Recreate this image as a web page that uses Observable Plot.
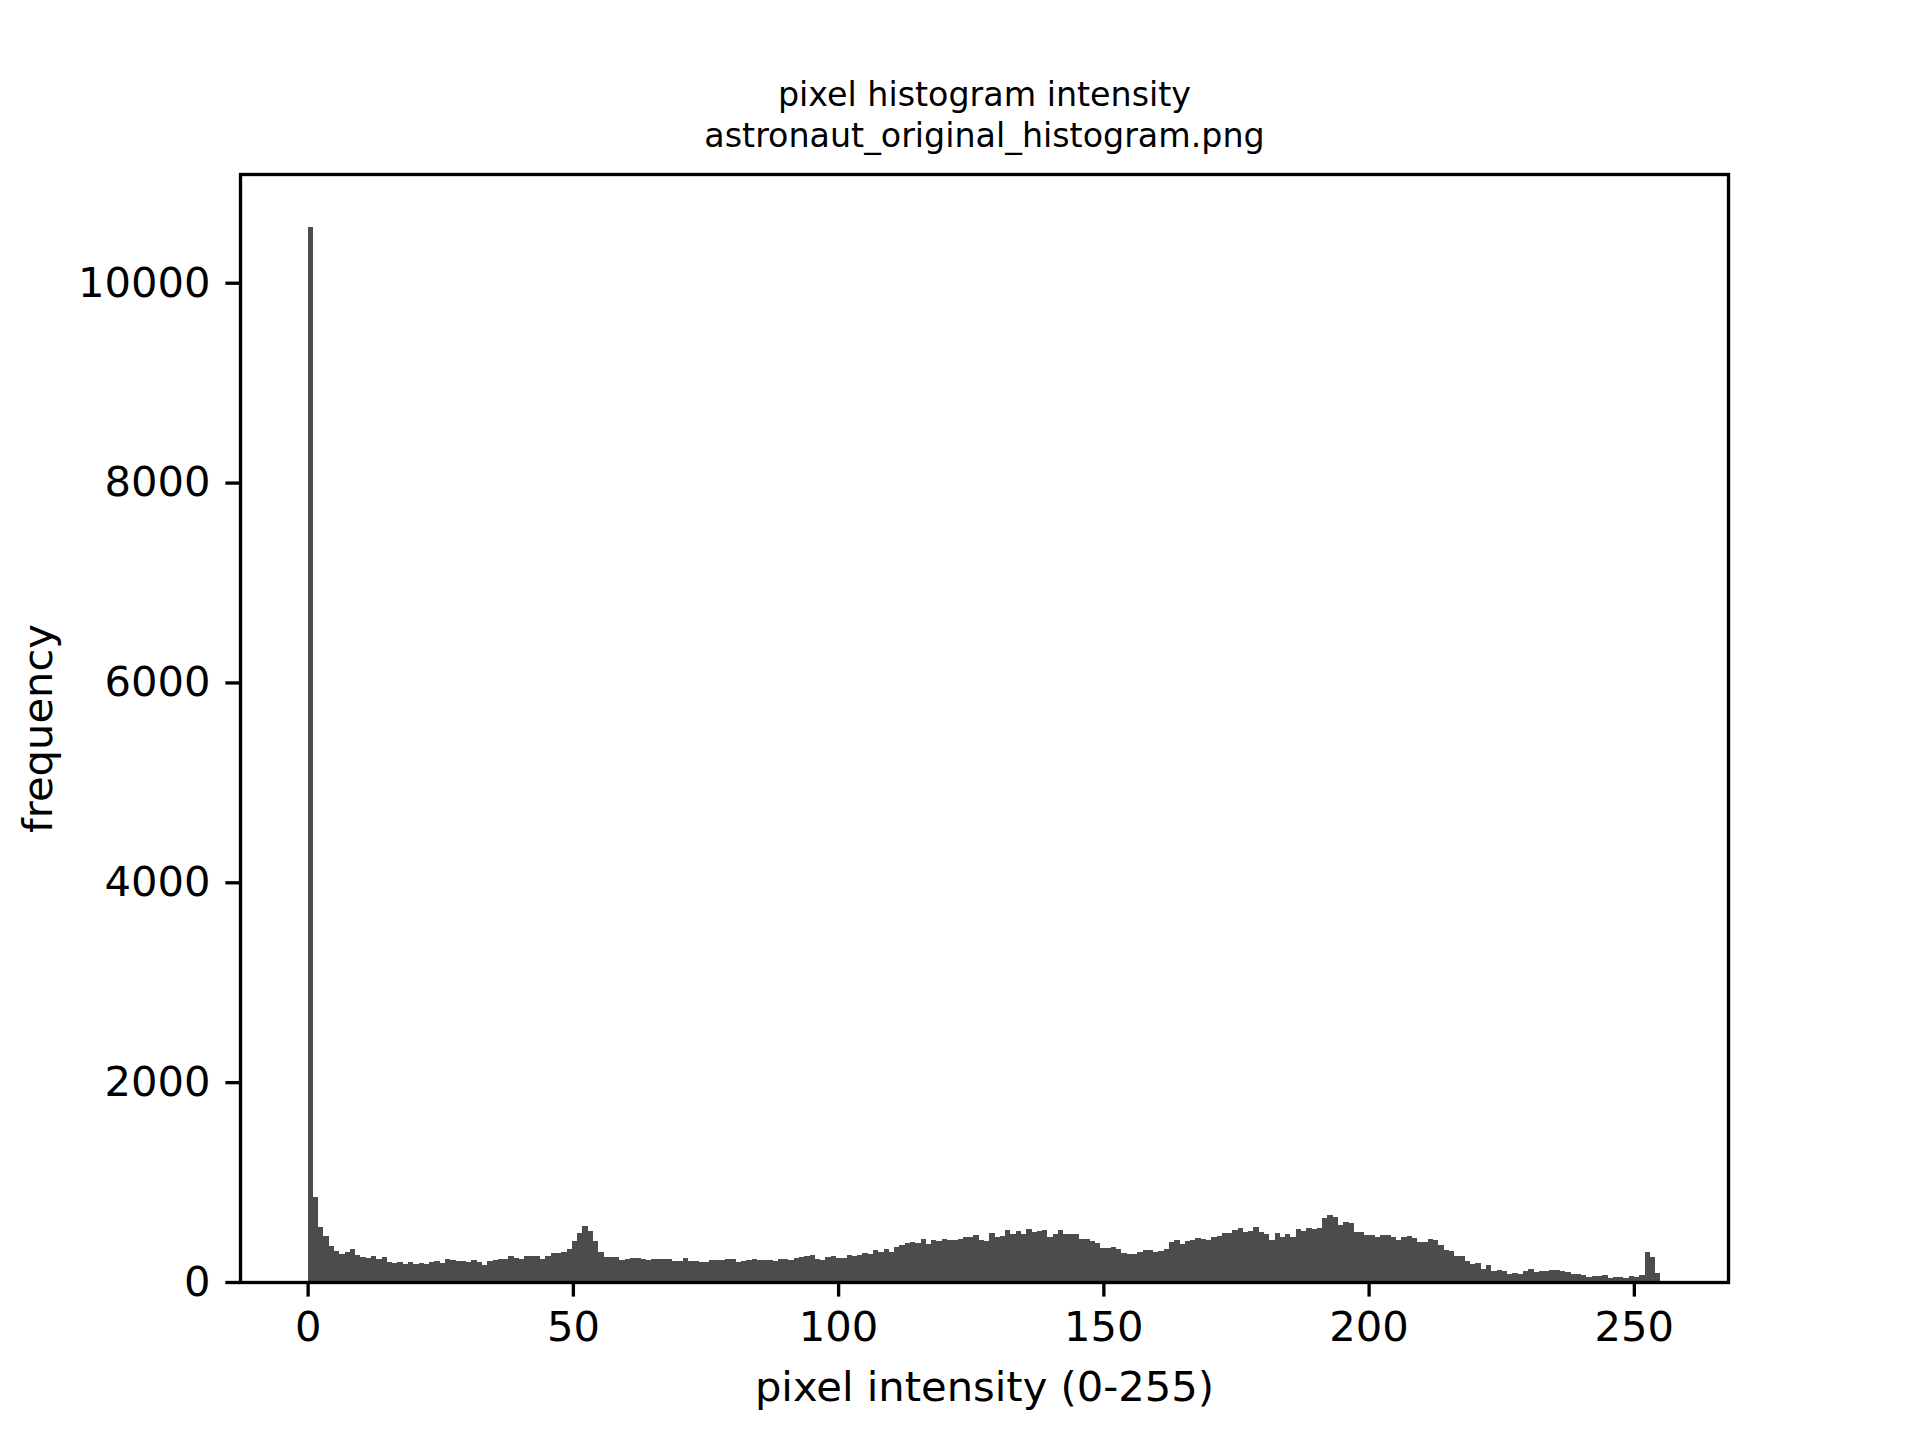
<!DOCTYPE html>
<html>
<head>
<meta charset="utf-8">
<script src="https://cdn.jsdelivr.net/npm/d3@7"></script>
<script src="https://cdn.jsdelivr.net/npm/@observablehq/plot@0.6"></script>
<style>
  html, body { margin: 0; padding: 0; background: #fff; }
  #chart svg { display: block; }
</style>
</head>
<body>
<div id="chart"></div>
<script>
// ---- data ----
const titleLines = ["pixel histogram intensity", "astronaut_original_histogram.png"];
const xLabel = "pixel intensity (0-255)";
const yLabel = "frequency";
const binRange = [0, 255];
const counts = [
  10560, 850, 550, 460, 360, 310, 280, 300, 330, 270,
  250, 243, 260, 233, 250, 203, 193, 200, 183, 200,
  183, 190, 180, 200, 213, 193, 230, 220, 213, 213,
  203, 223, 203, 170, 213, 223, 233, 233, 260, 243,
  233, 260, 260, 260, 230, 260, 290, 290, 300, 330,
  410, 490, 560, 510, 410, 300, 250, 250, 250, 220,
  230, 240, 240, 230, 220, 230, 230, 230, 230, 210,
  210, 240, 210, 210, 200, 200, 220, 220, 220, 230,
  230, 200, 210, 220, 230, 220, 220, 220, 210, 230,
  230, 220, 240, 250, 260, 270, 230, 220, 250, 260,
  240, 240, 270, 260, 270, 290, 280, 320, 300, 330,
  300, 350, 370, 390, 400, 390, 430, 380, 420, 410,
  430, 420, 420, 430, 450, 450, 470, 420, 410, 490,
  450, 460, 520, 480, 510, 480, 530, 500, 510, 520,
  450, 480, 520, 480, 480, 480, 430, 430, 410, 390,
  340, 340, 350, 330, 290, 280, 280, 300, 320, 320,
  300, 310, 330, 400, 420, 380, 410, 420, 440, 430,
  420, 450, 460, 490, 490, 520, 540, 500, 510, 550,
  500, 480, 420, 490, 450, 480, 450, 530, 510, 540,
  530, 540, 640, 670, 650, 570, 600, 590, 500, 500,
  470, 470, 450, 470, 470, 450, 420, 450, 460, 440,
  400, 400, 430, 420, 370, 320, 310, 260, 260, 210,
  180, 190, 130, 170, 110, 120, 110, 80, 90, 80,
  110, 130, 100, 110, 110, 120, 120, 110, 100, 80,
  80, 70, 50, 60, 60, 70, 40, 50, 50, 40,
  60, 50, 70, 300, 250, 90
];
const xTicks = [0, 50, 100, 150, 200, 250];
const yTicks = [0, 2000, 4000, 6000, 8000, 10000];

// bins table built from the data
const nBins = counts.length;
const binWidth = (binRange[1] - binRange[0]) / nBins;
const bins = counts.map((c, i) => ({
  x1: binRange[0] + i * binWidth,
  x2: binRange[0] + (i + 1) * binWidth,
  count: c
}));

const xPad = (binRange[1] - binRange[0]) * 0.05;
const yMax = d3.max(counts) * 1.05;

const tickLen = 14.6;
const font = "DejaVu Sans";

const chart = Plot.plot({
  width: 1920,
  height: 1440,
  marginLeft: 240,
  marginRight: 192,
  marginTop: 174,
  marginBottom: 158,
  style: { fontFamily: font, fontSize: "41.67px", color: "#000", background: "#fff" },
  x: { domain: [binRange[0] - xPad, binRange[1] + xPad] },
  y: { domain: [0, yMax] },
  marks: [
    Plot.rectY(bins, {
      x1: "x1", x2: "x2", y: "count",
      fill: "#4c4c4c", inset: 0, shapeRendering: "crispEdges"
    }),
    Plot.frame({ stroke: "#000", strokeWidth: 3.33 }),
    Plot.axisX({
      ticks: xTicks, tickSize: tickLen, tickPadding: 14,
      strokeWidth: 3.33, fontSize: 41.67, fill: "#000", label: null
    }),
    Plot.axisY({
      ticks: yTicks, tickSize: tickLen, tickPadding: 15.5, tickFormat: "d",
      strokeWidth: 3.33, fontSize: 41.67, fill: "#000", label: null
    }),
    Plot.text([xLabel], {
      frameAnchor: "bottom", dy: 105, fontSize: 41.67, fill: "#000", lineAnchor: "middle"
    }),
    Plot.text([yLabel], {
      frameAnchor: "left", dx: -202, rotate: -90, fontSize: 41.67, fill: "#000",
      lineAnchor: "middle", textAnchor: "middle"
    }),
    Plot.text([titleLines[0]], {
      frameAnchor: "top", dy: -79, fontSize: 33.3, fill: "#000", lineAnchor: "middle"
    }),
    Plot.text([titleLines[1]], {
      frameAnchor: "top", dy: -38, fontSize: 33.3, fill: "#000", lineAnchor: "middle"
    })
  ]
});
document.getElementById("chart").appendChild(chart);
</script>
</body>
</html>
